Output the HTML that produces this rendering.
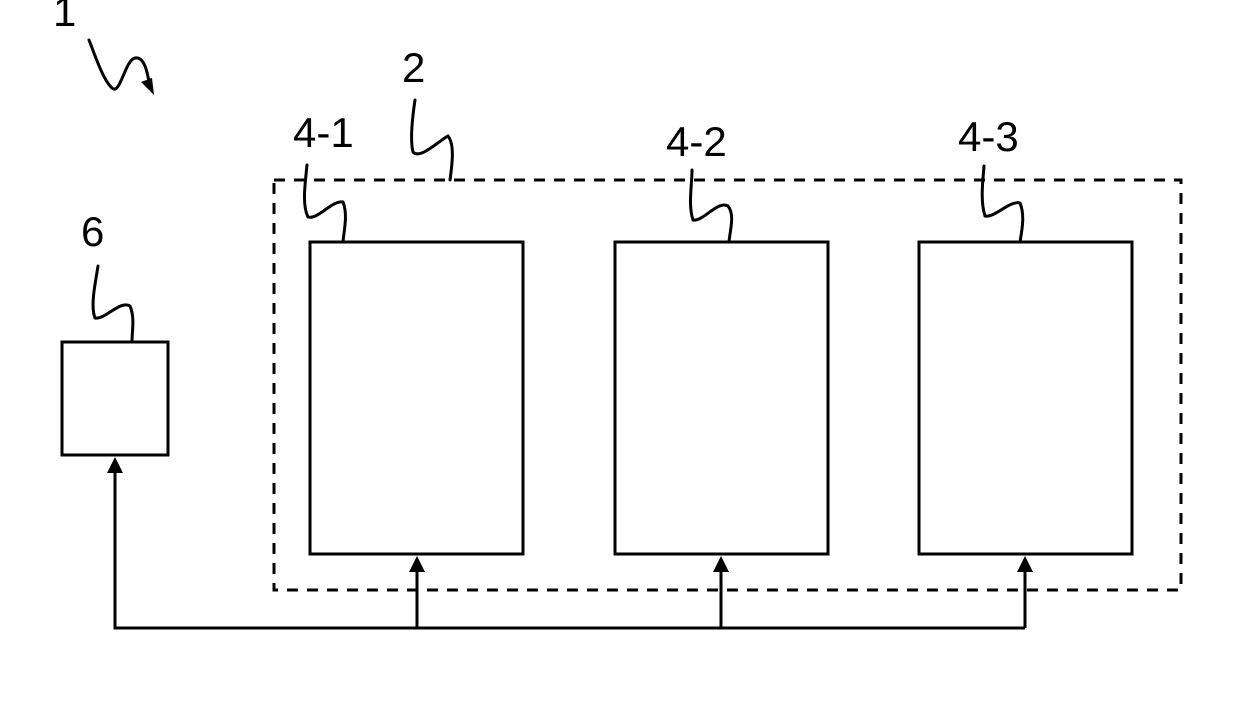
<!DOCTYPE html>
<html><head><style>
html,body{margin:0;padding:0;background:#fff;}
svg{display:block;}
text{font-family:"Liberation Sans",sans-serif;font-size:42px;fill:#000;}
</style></head><body>
<svg width="1247" height="712" viewBox="0 0 1247 712" xmlns="http://www.w3.org/2000/svg">
<rect x="274" y="180" width="907" height="410" fill="none" stroke="#000" stroke-width="3" stroke-dasharray="11 9"/>
<rect x="310" y="242" width="213" height="312" fill="#fff" stroke="#000" stroke-width="3"/>
<rect x="615" y="242" width="213" height="312" fill="#fff" stroke="#000" stroke-width="3"/>
<rect x="919" y="242" width="213" height="312" fill="#fff" stroke="#000" stroke-width="3"/>
<rect x="62" y="342" width="106" height="113" fill="#fff" stroke="#000" stroke-width="3"/>
<polyline points="115,470 115,628 1025,628" fill="none" stroke="#000" stroke-width="3"/>
<line x1="417" y1="628" x2="417" y2="570" stroke="#000" stroke-width="3"/>
<line x1="721" y1="628" x2="721" y2="570" stroke="#000" stroke-width="3"/>
<line x1="1025" y1="628" x2="1025" y2="570" stroke="#000" stroke-width="3"/>
<polygon points="115,457 107,473 123,473" fill="#000"/>
<polygon points="417,556 409,572 425,572" fill="#000"/>
<polygon points="721,556 713,572 729,572" fill="#000"/>
<polygon points="1025,556 1017,572 1033,572" fill="#000"/>
<g fill="none" stroke="#000" stroke-width="3" stroke-linecap="round">
<path d="M89,40 C95,55 103,80 112,88 C120,96 125,60 135,58 C145,56 148,75 150,88"/>
<path d="M415,100 C412,120 410,140 413,152 C420,160 440,140 448,136 C455,145 452,165 450,180"/>
<path d="M307,165 C305,185 302,205 308,217 C318,220 332,200 343,202 C348,215 344,230 343,242"/>
<path d="M692,170 C692,185 688,205 693,220 C703,222 718,200 728,206 C735,215 730,230 729,242"/>
<path d="M984,166 C983,180 980,200 985,216 C995,218 1010,200 1020,203 C1025,215 1022,230 1020,242"/>
<path d="M98,266 C96,280 90,305 95,318 C105,320 120,300 130,306 C135,318 132,330 132,342"/>
</g>
<polygon points="154,95 141,82 152,78" fill="#000"/>
<text x="53" y="26">1</text>
<text x="402" y="82">2</text>
<text x="293" y="147">4-1</text>
<text x="666" y="156">4-2</text>
<text x="958" y="151">4-3</text>
<text x="81" y="246">6</text>
</svg>
</body></html>
